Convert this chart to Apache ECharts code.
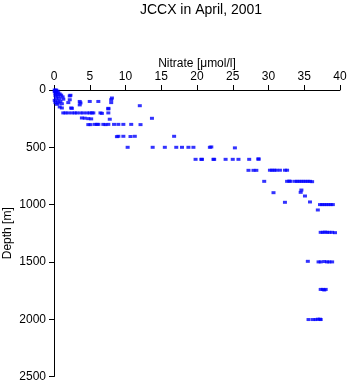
<!DOCTYPE html>
<html>
<head>
<meta charset="utf-8">
<script src="https://cdn.jsdelivr.net/npm/echarts@6/dist/echarts.min.js"></script>
<style>
html,body{margin:0;padding:0;background:#fff;}
#chart{width:348px;height:384px;}
</style>
</head>
<body>
<div id="chart"></div>
<script>
// Observations: nitrate [umol/l] and depth [m]
var nitrate = [
  0.1,0.3,0.2,0.5,0.1,0.3,0.6,0.2,0.8,0.4,1.0,0.2,0.6,1.2,0.3,0.7,1.3,0.1,0.5,0.9,0.2,0.6,1.1,0.4,0.8,1.1,
  2.3,2.2,2.2,2.0,2.4,2.5,
  3.6,3.7,3.6,5.0,6.2,8.0,8.1,8.0,7.6,7.6,
  1.3,1.6,2.0,2.5,2.9,3.2,3.7,4.1,4.6,5.0,5.3,5.5,6.5,6.7,7.6,
  12.0,
  3.9,4.3,4.8,5.2,7.8,13.7,
  4.8,5.1,5.7,6.0,6.2,6.9,7.2,7.6,8.4,9.0,9.7,10.8,12.1,
  8.8,9.0,9.7,10.7,11.3,16.8,
  10.3,13.8,15.5,17.1,17.9,18.8,19.5,21.8,22.0,25.3,
  19.8,20.6,20.7,22.3,22.4,24.0,25.0,25.8,27.3,28.6,28.6,
  27.2,27.9,28.3,30.2,30.5,30.8,31.1,31.6,32.3,32.6,
  29.4,32.6,32.9,33.1,33.7,34.0,34.3,34.6,34.9,35.2,35.5,35.8,36.1,
  34.6,34.5,30.7,35.1,35.8,32.3,
  37.2,37.5,37.8,38.1,38.4,38.7,39.0,
  36.9,
  37.3,37.6,37.9,38.2,38.5,38.9,39.3,
  35.5,37.0,37.3,37.8,38.2,38.5,38.9,
  37.3,37.6,37.8,38.0,
  35.6,36.2,36.6,36.9,37.2,37.3
];
var depth = [
  0,0,5,10,15,20,25,30,35,40,45,50,55,60,70,75,80,90,95,100,110,115,120,125,148,157,
  46,52,85,110,157,160,
  100,113,130,100,100,85,70,110,160,165,
  200,200,200,200,200,200,200,200,200,200,200,200,200,204,200,
  137,
  244,246,250,252,255,247,
  302,302,300,300,300,300,302,300,300,300,300,300,302,
  407,404,404,406,404,404,
  500,500,500,500,500,500,500,500,497,505,
  605,605,605,605,605,605,605,605,605,605,600,
  701,701,701,700,700,700,700,700,700,700,
  797,797,795,797,797,797,797,797,797,797,797,797,800,
  873,893,896,925,977,980,
  1000,1000,1000,1000,1000,1000,1000,
  1047,
  1242,1242,1240,1242,1242,1242,1245,
  1495,1500,1500,1497,1500,1500,1500,
  1740,1740,1745,1740,
  2003,2003,2003,2000,2000,2003
];
var xTicks = [0,5,10,15,20,25,30,35,40];
var yTicks = [0,500,1000,1500,2000,2500];
var titleText = 'JCCX in April, 2001';
var xName = 'Nitrate [\u03bcmol/l]';
var yName = 'Depth [m]';

var pts = nitrate.map(function(v,i){ return [v, depth[i]]; });
var font = 'Liberation Sans, Arial, Helvetica, sans-serif';
var chart = echarts.init(document.getElementById('chart'), null, {renderer:'canvas'});
chart.setOption({
  animation:false,
  backgroundColor:'#fff',
  title:{text:titleText,left:196,top:-2,textAlign:'center',
    textStyle:{fontFamily:font,fontSize:14,fontWeight:'normal',color:'#000'}},
  grid:{left:54,top:90,width:286,height:286.5,containLabel:false,outerBoundsMode:'none'},
  xAxis:{type:'value',position:'top',min:xTicks[0],max:xTicks[xTicks.length-1],interval:5,
    name:xName,nameLocation:'middle',nameGap:20,nameMoveOverlap:false,
    nameTextStyle:{fontFamily:font,fontSize:12,color:'#000'},
    axisLine:{show:true,lineStyle:{color:'#000',width:1}},
    axisTick:{show:true,inside:false,length:5,lineStyle:{color:'#000'}},
    axisLabel:{fontFamily:font,fontSize:12,color:'#000',margin:7,formatter:function(v){return String(v);}},
    splitLine:{show:false}},
  yAxis:{type:'value',inverse:true,min:yTicks[0],max:yTicks[yTicks.length-1],interval:500,
    name:yName,nameLocation:'middle',nameGap:40,nameMoveOverlap:false,
    nameTextStyle:{fontFamily:font,fontSize:12,color:'#000'},
    axisLine:{show:true,lineStyle:{color:'#000',width:1}},
    axisTick:{show:true,inside:false,length:5,lineStyle:{color:'#000'}},
    axisLabel:{fontFamily:font,fontSize:12,color:'#000',margin:8,formatter:function(v){return String(v);}},
    splitLine:{show:false}},
  series:[{type:'scatter',data:pts,symbol:'rect',symbolSize:[4,3],
    itemStyle:{color:'#0000ff'}}]
});
</script>
</body>
</html>
